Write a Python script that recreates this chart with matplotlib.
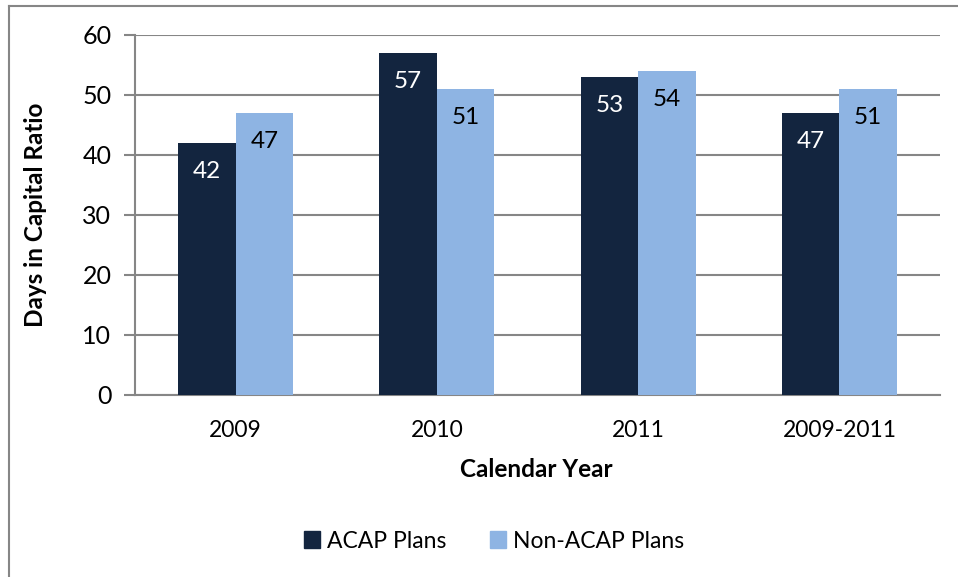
import matplotlib.pyplot as plt
import numpy as np
from matplotlib.lines import Line2D
from matplotlib.patches import Patch

categories = ["2009", "2010", "2011", "2009-2011"]
acap = [42, 57, 53, 47]
non_acap = [47, 51, 54, 51]
yticks = [0, 10, 20, 30, 40, 50, 60]

dark = "#13253F"
light = "#8EB4E3"
grid = "#868686"

plt.rcParams['font.family'] = ['Lato', 'DejaVu Sans']

W, H = 958, 577
fig = plt.figure(figsize=(W/100, H/100), dpi=100)
ax = fig.add_axes([135/W, 1-395/H, (940-135)/W, (395-35)/H])

x = np.arange(len(categories))
bw = 0.286
ax.bar(x - bw/2, acap, bw, color=dark, zorder=3)
ax.bar(x + bw/2, non_acap, bw, color=light, zorder=3)

for xi, v in zip(x, acap):
    ax.text(xi - bw/2, v - 4.8, str(v), ha='center', va='center', color='white', fontsize=17.5, zorder=4)
for xi, v in zip(x, non_acap):
    ax.text(xi + bw/2, v - 4.8, str(v), ha='center', va='center', color='black', fontsize=17.5, zorder=4)

ax.set_xlim(-0.5, len(categories) - 0.5)
ax.set_ylim(0, 60)
ax.set_yticks(yticks)
ax.set_xticks(x)
ax.set_xticklabels(categories, fontsize=16.5)
ax.tick_params(axis='y', labelsize=18, length=8, color=grid, width=1.5, pad=9)
ax.tick_params(axis='x', length=0, pad=18)
ax.yaxis.grid(True, color=grid, linewidth=1.5, zorder=0)
for s in ['top', 'right']:
    ax.spines[s].set_visible(False)
ax.spines['left'].set_color(grid)
ax.spines['bottom'].set_color(grid)
ax.spines['left'].set_linewidth(1.5)
ax.spines['bottom'].set_linewidth(1.5)

ax.set_ylabel("Days in Capital Ratio", fontsize=17.5, fontweight='bold')
ax.set_xlabel("Calendar Year", fontsize=17.5, fontweight='bold')
ax.yaxis.set_label_coords(-0.124, 0.5)
ax.xaxis.set_label_coords(0.498, -0.2056)
ax.yaxis.label.set_va('center')
ax.xaxis.label.set_va('center')

handles = [Patch(color=dark, label="ACAP Plans"), Patch(color=light, label="Non-ACAP Plans")]
fig.legend(handles=handles, loc='center', bbox_to_anchor=(494/W, 1-541/H), ncol=2, frameon=False,
           fontsize=16.5, handlelength=0.7, handleheight=0.7, handletextpad=0.3, columnspacing=1.9)

# outer border (left and top visible)
fig.add_artist(Line2D([8.5/W, 8.5/W], [0, 1-5.5/H], transform=fig.transFigure, color=grid, linewidth=1.5))
fig.add_artist(Line2D([8.5/W, 1], [1-5.5/H, 1-5.5/H], transform=fig.transFigure, color=grid, linewidth=1.5))

fig.savefig("out.png", dpi=100)
